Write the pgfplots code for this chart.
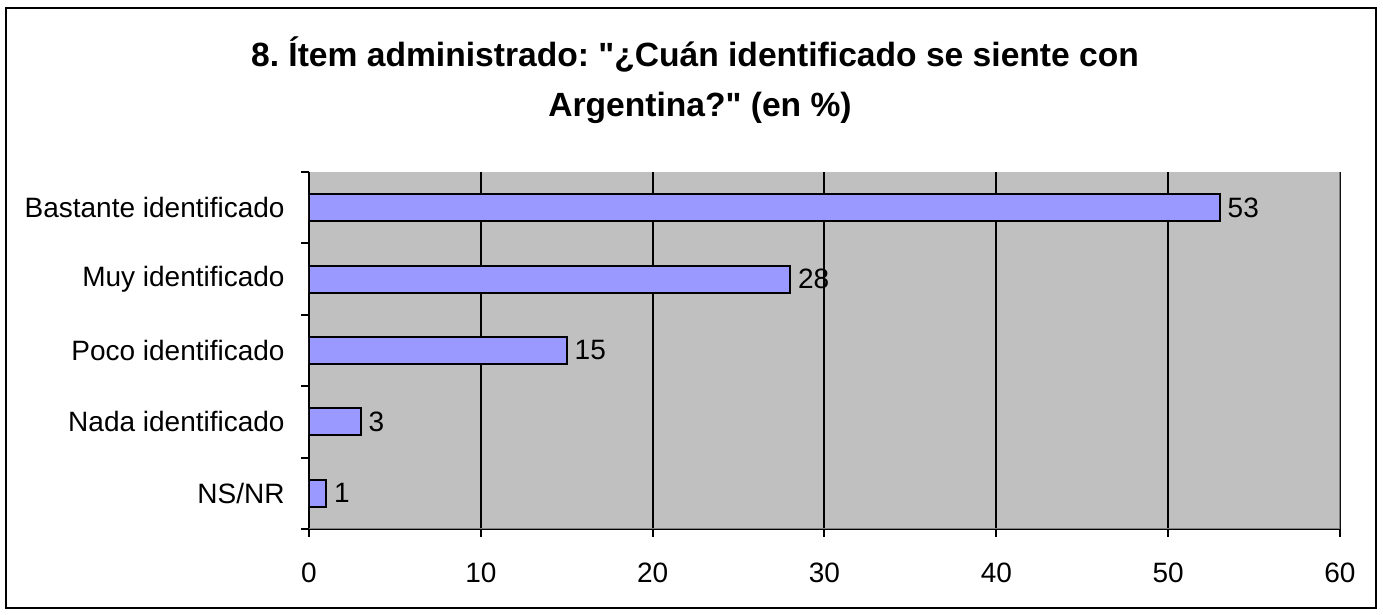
\documentclass[border=0pt]{standalone}
\usepackage{pgfplots}
\pgfplotsset{compat=1.18}
\usepackage{fontspec}
\setmainfont{Liberation Sans}
\newfontfamily\plainfont{Liberation Sans}
\definecolor{plotgray}{HTML}{C0C0C0}
\definecolor{barblue}{HTML}{9999FF}
\begin{document}
\frenchspacing
\begin{tikzpicture}
\path[use as bounding box] (0,0) rectangle (691.5pt,307.5pt);
\draw[black, line width=1pt] (3pt,3.5pt) rectangle (688pt,303.5pt);
\node[anchor=base, font=\plainfont\fontsize{16.8}{19}\selectfont\bfseries, inner sep=0pt] at (347.5pt,274pt) {8. Ítem administrado: "¿Cuán identificado se siente con};
\node[anchor=base, font=\plainfont\fontsize{16.8}{19}\selectfont\bfseries, inner sep=0pt] at (350pt,249pt) {Argentina?" (en \%)};
\begin{axis}[
  at={(154.5pt,43pt)}, anchor=south west,
  width=515.5pt, height=178.5pt, scale only axis,
  /pgf/number format/assume math mode=true,
  xbar, bar width=0.38,
  xmin=0, xmax=60, ymin=-0.5, ymax=4.5,
  y dir=reverse,
  xtick={0,10,...,60},
  ytick={-0.5,0.5,...,4.5},
  yticklabels={},
  extra y ticks={0,1,2,3,4},
  extra y tick labels={Bastante identificado, Muy identificado, Poco identificado, Nada identificado, NS/NR},
  extra y tick style={major tick length=0pt, yticklabel style={inner sep=0pt, xshift=-12pt}},
  axis x line*=bottom, axis y line*=left,
  axis line style={line width=1pt, black, -},
  tick style={line width=1pt, black},
  tick align=outside,
  major tick length=4pt,
  xmajorgrids, major grid style={black, line width=1pt},
  axis background/.style={fill=plotgray},
  ticklabel style={font=\fontsize{14}{16}\selectfont},
  xticklabel style={inner sep=0pt, yshift=-13pt},
  nodes near coords,
  nodes near coords style={font=\fontsize{14}{16}\selectfont, inner sep=0pt, xshift=3.5pt, anchor=west},
]
\addplot[fill=barblue, draw=black, line width=1pt] coordinates {(53,0) (28,1) (15,2) (3,3) (1,4)};
\draw[color=gray, line width=0.6pt] (rel axis cs:0,0) -- (rel axis cs:1,0) -- (rel axis cs:1,1);
\end{axis}
\end{tikzpicture}
\end{document}
